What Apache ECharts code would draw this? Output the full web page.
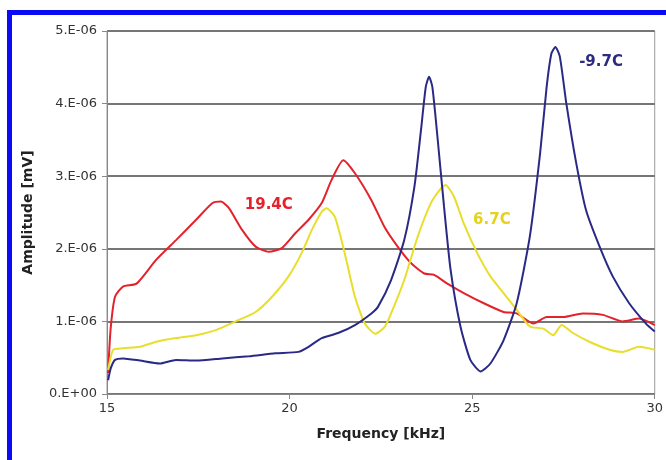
<!DOCTYPE html>
<html>
<head>
<meta charset="utf-8">
<script src="https://cdn.jsdelivr.net/npm/echarts@6/dist/echarts.min.js"></script>
<style>
  body { margin: 0; background: #fff; }
  .wrap { position: relative; width: 666px; height: 460px; background: #fff; }
  .frame {
    position: absolute; left: 7px; top: 10px; right: 0; bottom: 0;
    border-left: 5px solid #0a0af5; border-top: 5px solid #0a0af5;
    pointer-events: none;
  }
  #chart { position: absolute; left: 0; top: 0; width: 666px; height: 460px; }
</style>
</head>
<body>
<div class="wrap">
  <div id="chart"></div>
  <div class="frame"></div>
</div>
<script>
// amplitude values in units of 1E-06 mV, frequency in kHz
var yTickLabels = ['0.E+00', '1.E-06', '2.E-06', '3.E-06', '4.E-06', '5.E-06']

var freqRed = [15.03, 15.1, 15.22, 15.44, 15.81, 16.35, 16.89, 17.44, 17.89, 18.12, 18.34, 18.7, 19.07, 19.43, 19.79, 20.15, 20.52, 20.88, 21.15, 21.47, 21.79, 22.24, 22.6, 22.96, 23.33, 23.69, 23.96, 24.32, 24.77, 25.32, 25.86, 26.22, 26.68, 27.04, 27.49, 28.03, 28.58, 29.12, 29.57, 30.0]
var ampRed = [0.29, 0.9, 1.34, 1.48, 1.52, 1.85, 2.12, 2.4, 2.63, 2.65, 2.56, 2.26, 2.03, 1.96, 2.01, 2.21, 2.4, 2.63, 2.95, 3.22, 3.04, 2.67, 2.3, 2.03, 1.8, 1.66, 1.64, 1.52, 1.39, 1.25, 1.13, 1.11, 0.97, 1.06, 1.06, 1.11, 1.09, 1.0, 1.04, 0.95]

var freqYellow = [15.03, 15.17, 15.44, 15.9, 16.35, 16.89, 17.44, 17.98, 18.52, 19.07, 19.52, 19.97, 20.33, 20.61, 20.88, 21.01, 21.24, 21.51, 21.79, 22.06, 22.35, 22.6, 22.78, 23.14, 23.51, 23.87, 24.14, 24.27, 24.5, 24.77, 25.14, 25.5, 25.86, 26.22, 26.58, 26.95, 27.22, 27.45, 27.76, 28.21, 28.76, 29.12, 29.57, 30.0]
var ampYellow = [0.33, 0.61, 0.63, 0.65, 0.72, 0.77, 0.81, 0.88, 1.0, 1.13, 1.34, 1.62, 1.94, 2.26, 2.51, 2.56, 2.44, 1.94, 1.34, 0.97, 0.83, 0.92, 1.11, 1.57, 2.17, 2.63, 2.83, 2.88, 2.72, 2.35, 1.94, 1.62, 1.39, 1.16, 0.93, 0.9, 0.81, 0.95, 0.84, 0.72, 0.61, 0.58, 0.65, 0.61]

var freqBlue = [15.03, 15.1, 15.22, 15.44, 15.9, 16.44, 16.89, 17.44, 18.16, 18.89, 19.61, 20.24, 20.52, 20.88, 21.33, 21.79, 22.24, 22.42, 22.78, 23.14, 23.42, 23.6, 23.73, 23.82, 23.91, 24.05, 24.23, 24.41, 24.68, 24.95, 25.23, 25.5, 25.86, 26.22, 26.58, 26.86, 27.04, 27.17, 27.28, 27.4, 27.58, 27.85, 28.12, 28.49, 28.85, 29.3, 29.76, 30.0]
var ampBlue = [0.19, 0.35, 0.47, 0.49, 0.46, 0.42, 0.47, 0.46, 0.49, 0.52, 0.56, 0.58, 0.65, 0.77, 0.84, 0.95, 1.11, 1.2, 1.57, 2.12, 2.86, 3.64, 4.23, 4.37, 4.23, 3.54, 2.58, 1.71, 0.93, 0.47, 0.31, 0.42, 0.74, 1.25, 2.17, 3.31, 4.23, 4.69, 4.78, 4.65, 4.0, 3.18, 2.53, 2.03, 1.62, 1.25, 0.97, 0.86]

var seriesLabels = [
  { name: '19.4C', color: '#e3222b', at: [19.43, 2.6] },
  { name: '6.7C', color: '#e6d21e', at: [25.54, 2.4] },
  { name: '-9.7C', color: '#2b2b80', at: [28.53, 4.57] }
]

function pairs (xs, ys) {
  return xs.map(function (x, i) { return [x, ys[i]] })
}

var myChart = echarts.init(document.getElementById('chart'))

function makeSeries (name, color, data, lbl) {
  return {
    name: name,
    type: 'line',
    data: data,
    showSymbol: false,
    smooth: 0.2,
    lineStyle: { color: color, width: 2 },
    itemStyle: { color: color },
    z: 3,
    markPoint: {
      symbol: 'circle',
      symbolSize: 0,
      data: [{ coord: lbl.at }],
      label: {
        show: true,
        position: 'inside',
        formatter: lbl.name,
        color: lbl.color,
        fontFamily: 'DejaVu Sans',
        fontWeight: 'bold',
        fontSize: 15
      }
    }
  }
}

var option = {
  animation: false,
  backgroundColor: '#fff',
  grid: {
    left: 107,
    right: 6,
    top: 31,
    bottom: 66,
    show: true,
    borderColor: '#9a9a9a',
    borderWidth: 1
  },
  xAxis: {
    type: 'value',
    min: 15,
    max: 30,
    interval: 5,
    name: 'Frequency [kHz]',
    nameLocation: 'middle',
    nameGap: 33,
    nameTextStyle: { fontFamily: 'DejaVu Sans', fontWeight: 'bold', fontSize: 14, color: '#222' },
    axisLine: { show: true, lineStyle: { color: '#888', width: 1 } },
    axisTick: { show: true, length: 5, lineStyle: { color: '#888' } },
    axisLabel: { fontFamily: 'DejaVu Sans', fontSize: 13, color: '#333', margin: 8 },
    splitLine: { show: false }
  },
  yAxis: {
    type: 'value',
    min: 0,
    max: 5,
    interval: 1,
    name: 'Amplitude [mV]',
    nameLocation: 'middle',
    nameGap: 72,
    nameTextStyle: { fontFamily: 'DejaVu Sans', fontWeight: 'bold', fontSize: 14, color: '#222' },
    axisLine: { show: true, lineStyle: { color: '#888', width: 1 } },
    axisTick: { show: true, length: 5, lineStyle: { color: '#888' } },
    axisLabel: {
      fontFamily: 'DejaVu Sans',
      fontSize: 13,
      color: '#333',
      margin: 10,
      formatter: function (v) { return yTickLabels[Math.round(v)] }
    },
    splitLine: { show: true, lineStyle: { color: '#767676', width: 2 } }
  },
  series: [
    makeSeries('19.4C', '#e3222b', pairs(freqRed, ampRed), seriesLabels[0]),
    makeSeries('6.7C', '#e8de2c', pairs(freqYellow, ampYellow), seriesLabels[1]),
    makeSeries('-9.7C', '#2a2a86', pairs(freqBlue, ampBlue), seriesLabels[2])
  ]
}

myChart.setOption(option)
</script>
</body>
</html>
